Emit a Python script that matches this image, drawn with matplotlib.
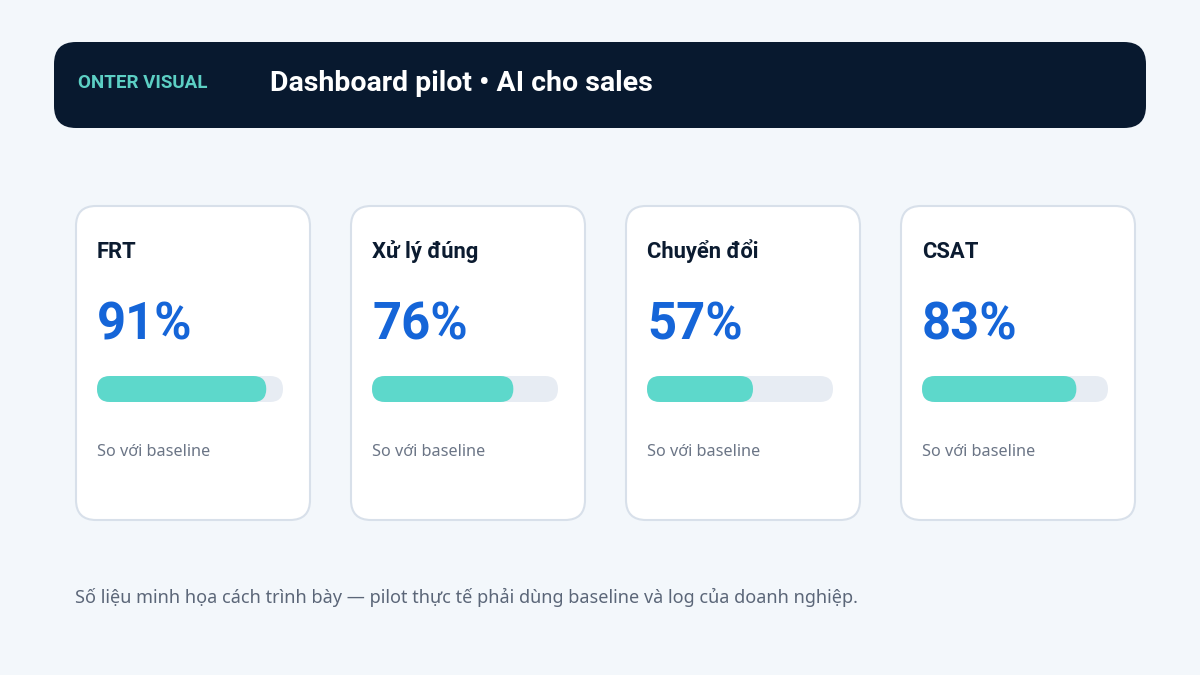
import matplotlib
matplotlib.use("Agg")
import matplotlib.pyplot as plt
from matplotlib.patches import FancyBboxPatch

plt.rcParams['font.family'] = ['Noto Sans', 'DejaVu Sans']
BOLD = ['Roboto', 'DejaVu Sans']

# dữ liệu
brand = "ONTER VISUAL"
title = "Dashboard pilot • AI cho sales"
metrics = ["FRT", "Xử lý đúng", "Chuyển đổi", "CSAT"]
values = [91, 76, 57, 83]
caption = "So với baseline"
footer = "Số liệu minh họa cách trình bày — pilot thực tế phải dùng baseline và log của doanh nghiệp."

# màu
bg = "#f3f7fb"
navy = "#08192f"
teal = "#5dd8cb"
track = "#e7ecf3"
blue = "#1565d8"
border = "#d8e0ea"

fig = plt.figure(figsize=(12, 6.75), dpi=100)
fig.patch.set_facecolor(bg)
ax = fig.add_axes([0, 0, 1, 1])
ax.set_xlim(0, 1200)
ax.set_ylim(675, 0)
ax.axis("off")

# thanh tiêu đề
ax.add_patch(FancyBboxPatch((54, 42), 1092, 86, boxstyle="round,pad=0,rounding_size=22",
                            fc=navy, ec="none"))
ax.text(78, 88, brand, color="#5ccfc4", fontsize=13.5, fontweight="bold", family=BOLD,
        va="baseline")
ax.text(270, 91, title, color="white", fontsize=20.5, fontweight="bold", family=BOLD,
        va="baseline")

# các thẻ
card_x0, card_w, gap = 76, 234, 41
card_y0, card_h = 206, 314
bar_w, bar_h = 186, 26
for i, (name, v) in enumerate(zip(metrics, values)):
    x = card_x0 + i * (card_w + gap)
    ax.add_patch(FancyBboxPatch((x, card_y0), card_w, card_h,
                                boxstyle="round,pad=0,rounding_size=20",
                                fc="white", ec=border, lw=1.5))
    tx = x + 21
    ax.text(tx, 258, name, color="#0b1b30", fontsize=15.8, fontweight="bold", family=BOLD,
            va="baseline")
    ax.text(tx, 340, f"{v}%", color=blue, fontsize=36.5, fontweight="bold", family=BOLD,
            va="baseline")
    ax.add_patch(FancyBboxPatch((tx, 376), bar_w, bar_h,
                                boxstyle=f"round,pad=0,rounding_size={bar_h/2}",
                                fc=track, ec="none"))
    ax.add_patch(FancyBboxPatch((tx, 376), bar_w * v / 100, bar_h,
                                boxstyle=f"round,pad=0,rounding_size={bar_h/2}",
                                fc=teal, ec="none"))
    ax.text(tx, 456, caption, color="#6b7586", fontsize=11.7, va="baseline")

ax.text(75, 603, footer, color="#5b6678", fontsize=13, va="baseline")

fig.savefig("out.png", dpi=100, facecolor=bg)
